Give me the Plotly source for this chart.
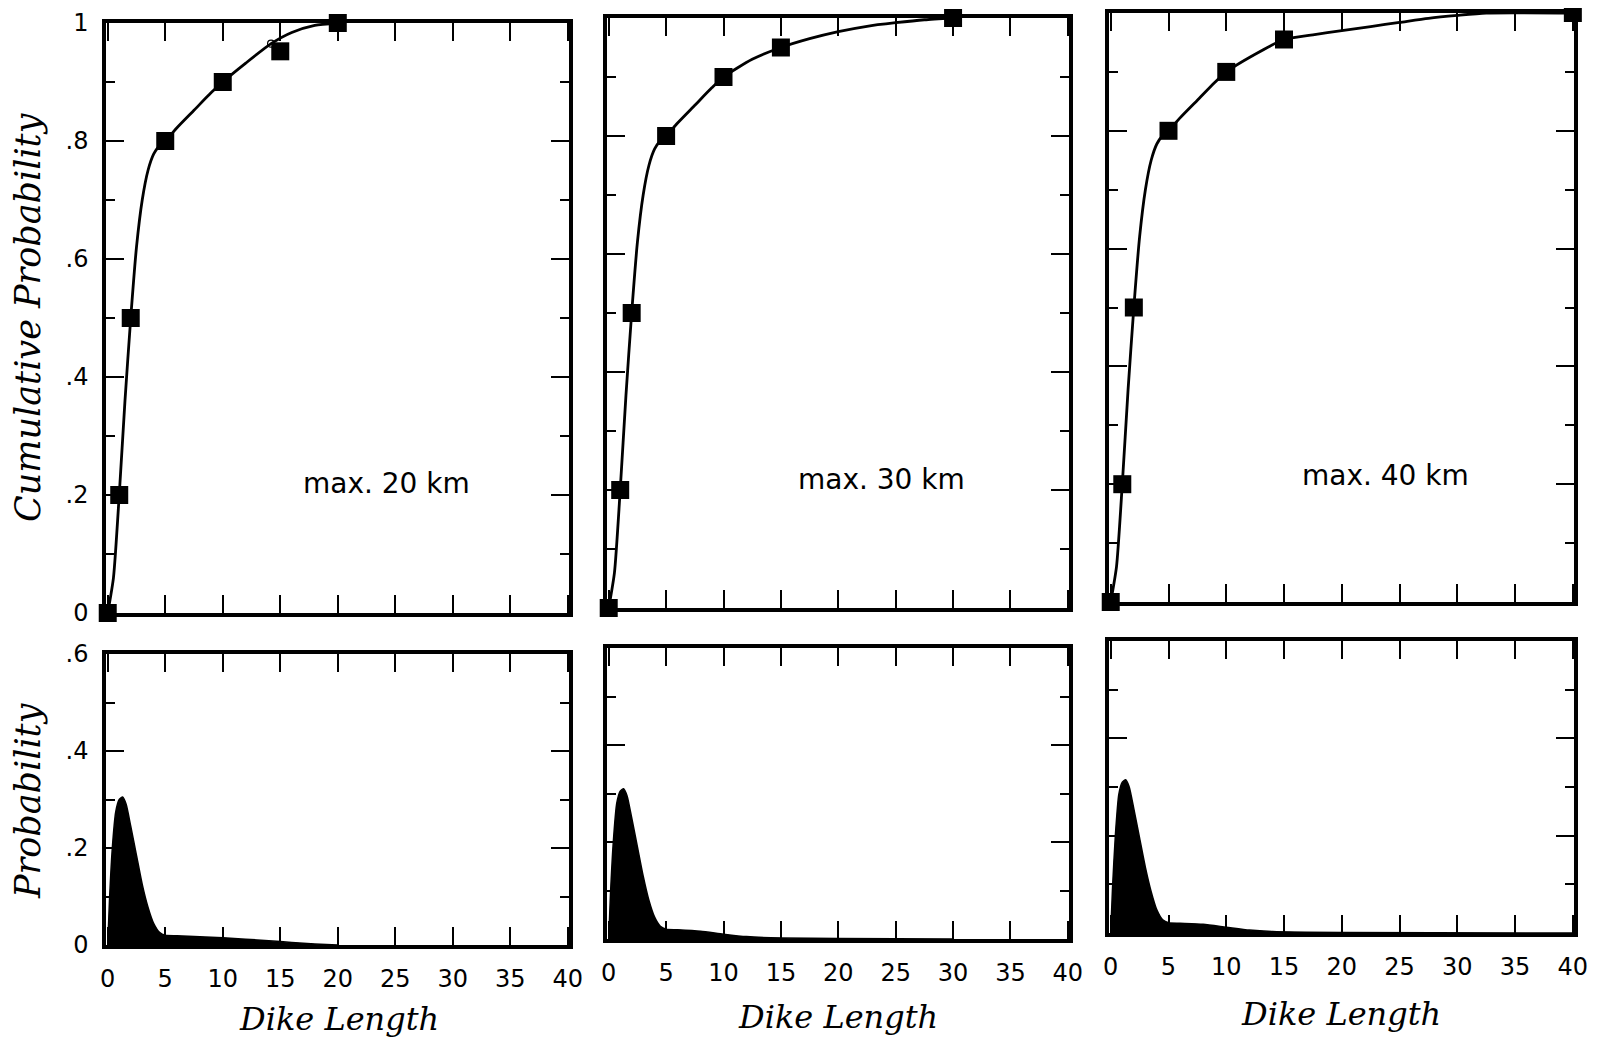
import plotly.graph_objects as go

# ---------------- data ----------------
max_labels = ["max. 20 km", "max. 30 km", "max. 40 km"]

# cumulative probability: square markers
mk_x1 = [0, 1, 2, 5, 10, 15, 20]
mk_y1 = [0, 0.2, 0.5, 0.8, 0.9, 0.952, 1.0]
mk_x2 = [0, 1, 2, 5, 10, 15, 30]
mk_y2 = [0, 0.2, 0.5, 0.8, 0.9, 0.95, 1.0]
mk_x3 = [0, 1, 2, 5, 10, 15, 40]
mk_y3 = [0, 0.2, 0.5, 0.8, 0.9, 0.955, 1.0]

# small open circle on the first curve
oc_x = [14.2]
oc_y = [0.965]

# cumulative probability: smooth curves
cv_x1 = [0, 0.5, 1, 1.5, 2, 2.5, 3, 3.5, 4, 4.5, 5, 6, 7.5, 9, 10, 12, 14.2, 16, 18, 20]
cv_y1 = [0, 0.06, 0.2, 0.36, 0.5, 0.62, 0.7, 0.75, 0.778, 0.792, 0.8, 0.822, 0.852, 0.882, 0.9, 0.932, 0.965, 0.984, 0.996, 1.0]
cv_x2 = [0, 0.5, 1, 1.5, 2, 2.5, 3, 3.5, 4, 4.5, 5, 6, 7.5, 9, 10, 12.5, 15, 17.5, 20, 22.5, 25, 27.5, 30]
cv_y2 = [0, 0.06, 0.2, 0.36, 0.5, 0.62, 0.7, 0.75, 0.778, 0.792, 0.8, 0.822, 0.852, 0.882, 0.9, 0.93, 0.95, 0.965, 0.977, 0.986, 0.992, 0.997, 1.0]
cv_x3 = [0, 0.5, 1, 1.5, 2, 2.5, 3, 3.5, 4, 4.5, 5, 6, 7.5, 9, 10, 12.5, 15, 17.5, 20, 22.5, 25, 27.5, 30, 32.5, 40]
cv_y3 = [0, 0.06, 0.2, 0.36, 0.5, 0.62, 0.7, 0.75, 0.778, 0.792, 0.8, 0.822, 0.852, 0.882, 0.9, 0.93, 0.955, 0.963, 0.97, 0.977, 0.984, 0.991, 0.996, 1.0, 1.0]

# probability density (filled)
pd_x1 = [0, 0.15, 0.4, 0.7, 1.0, 1.3, 1.6, 2.0, 2.5, 3.0, 3.5, 4.0, 4.5, 5.0, 6, 8, 10, 12, 14, 16, 18, 20]
pd_y1 = [0, 0.09, 0.2, 0.275, 0.3, 0.305, 0.29, 0.245, 0.185, 0.125, 0.078, 0.044, 0.026, 0.02, 0.019, 0.017, 0.015, 0.012, 0.009, 0.005, 0.002, 0.0]
pd_x2 = [0, 0.15, 0.4, 0.7, 1.0, 1.3, 1.6, 2.0, 2.5, 3.0, 3.5, 4.0, 4.5, 5.0, 6, 8, 10, 12, 15, 20, 30]
pd_y2 = [0, 0.09, 0.2, 0.28, 0.305, 0.31, 0.295, 0.25, 0.19, 0.13, 0.08, 0.045, 0.026, 0.02, 0.019, 0.016, 0.01, 0.005, 0.002, 0.001, 0.0]
pd_x3 = [0, 0.15, 0.4, 0.7, 1.0, 1.3, 1.6, 2.0, 2.5, 3.0, 3.5, 4.0, 4.5, 5.0, 6, 8, 10, 12, 14, 20, 40]
pd_y3 = [0, 0.09, 0.2, 0.285, 0.31, 0.315, 0.3, 0.255, 0.195, 0.135, 0.085, 0.047, 0.027, 0.021, 0.02, 0.018, 0.012, 0.006, 0.003, 0.001, 0.0]

x_ticks = [0, 5, 10, 15, 20, 25, 30, 35, 40]
x_ticktext = ["0", "5", "10", "15", "20", "25", "30", "35", "40"]
cum_ticks = [0, 0.2, 0.4, 0.6, 0.8, 1.0]
cum_ticktext = ["0", ".2", ".4", ".6", ".8", "1"]
cum_minor = [0.1, 0.3, 0.5, 0.7, 0.9]
prob_ticks = [0, 0.2, 0.4, 0.6]
prob_ticktext = ["0", ".2", ".4", ".6"]
prob_minor = [0.1, 0.3, 0.5]

markers = [(mk_x1, mk_y1), (mk_x2, mk_y2), (mk_x3, mk_y3)]
curves = [(cv_x1, cv_y1), (cv_x2, cv_y2), (cv_x3, cv_y3)]
dens = [(pd_x1, pd_y1), (pd_x2, pd_y2), (pd_x3, pd_y3)]

# ---------------- layout geometry (page pixels) ----------------
OFF = 8  # default body margin of the html page
W, H = 1602 - 2 * OFF, 1050 - 2 * OFF
col_px = [(106, 569), (607, 1069), (1109, 1574)]
top_px = [(23, 613), (18, 608), (13, 602)]
bot_px = [(654, 945), (648, 939), (641, 933)]


def xd(a, b):
    return [(a - OFF) / W, (b - OFF) / W]


def yd(t, b):
    return [1 - (b - OFF) / H, 1 - (t - OFF) / H]


def px(x):
    return (x - OFF) / W


def py(y):
    return 1 - (y - OFF) / H


TICKFONT = dict(family="DejaVu Sans", size=24, color="black")
XTITLE = dict(family="DejaVu Serif", size=32, color="black")
YTITLE = dict(family="DejaVu Serif", size=35, color="black")

fig = go.Figure()
layout = {}

for i in range(3):
    kt = 2 * i + 1
    kb = 2 * i + 2
    xa_t, ya_t = f"x{kt}", f"y{kt}"
    xa_b, ya_b = f"x{kb}", f"y{kb}"

    cx, cy = curves[i]
    fig.add_trace(go.Scatter(x=cx, y=cy, mode="lines",
                             line=dict(color="black", width=2.8, shape="spline", smoothing=0.6),
                             xaxis=xa_t, yaxis=ya_t, showlegend=False, cliponaxis=False))
    mx, my = markers[i]
    fig.add_trace(go.Scatter(x=mx, y=my, mode="markers", marker=dict(symbol="square", size=18, color="black"),
                             xaxis=xa_t, yaxis=ya_t, showlegend=False, cliponaxis=False))
    if i == 0:
        fig.add_trace(go.Scatter(x=oc_x, y=oc_y, mode="markers",
                                 marker=dict(symbol="circle-open", size=7, color="black", line=dict(width=1.2)),
                                 xaxis=xa_t, yaxis=ya_t, showlegend=False, cliponaxis=False))
    dx, dy = dens[i]
    fig.add_trace(go.Scatter(x=dx, y=dy, mode="lines", fill="tozeroy", fillcolor="black",
                             line=dict(color="black", width=1.5, shape="spline", smoothing=0.6),
                             xaxis=xa_b, yaxis=ya_b, showlegend=False))

    common_x = dict(range=[-0.15, 40.1], tickvals=x_ticks, ticks="inside", ticklen=18, tickwidth=2.4,
                    tickcolor="black", showline=True, linewidth=3.5, linecolor="black", mirror="allticks",
                    showgrid=False, zeroline=False, tickfont=TICKFONT, automargin=False)
    common_y = dict(ticks="inside", ticklen=18, tickwidth=2.4, tickcolor="black", showline=True, linewidth=3.5,
                    linecolor="black", mirror="allticks", showgrid=False, zeroline=False, tickfont=TICKFONT,
                    ticklabelstandoff=9, automargin=False)

    layout[f"xaxis{kt}"] = dict(common_x, domain=xd(*col_px[i]), anchor=ya_t, showticklabels=False)
    layout[f"yaxis{kt}"] = dict(common_y, domain=yd(*top_px[i]), anchor=xa_t, range=[0, 1.0],
                                tickvals=cum_ticks, ticktext=cum_ticktext, showticklabels=(i == 0),
                                minor=dict(tickvals=cum_minor, ticks="inside", ticklen=9,
                                           tickwidth=2, tickcolor="black", showgrid=False))
    layout[f"xaxis{kb}"] = dict(common_x, domain=xd(*col_px[i]), anchor=ya_b,
                                ticktext=x_ticktext, showticklabels=True, ticklabelstandoff=9)
    layout[f"yaxis{kb}"] = dict(common_y, domain=yd(*bot_px[i]), anchor=xa_b, range=[0, 0.6],
                                tickvals=prob_ticks, ticktext=prob_ticktext, showticklabels=(i == 0),
                                minor=dict(tickvals=prob_minor, ticks="inside", ticklen=9,
                                           tickwidth=2, tickcolor="black", showgrid=False))

annotations = []
label_pos = [(24.2, 0.22), (23.8, 0.217), (23.8, 0.214)]
title_centers = [(339, 1019), (838, 1017), (1341, 1014)]
for i in range(3):
    kt = 2 * i + 1
    annotations.append(dict(x=label_pos[i][0], y=label_pos[i][1], xref=f"x{kt}", yref=f"y{kt}",
                            text=max_labels[i], showarrow=False, xanchor="center", yanchor="middle",
                            font=dict(family="DejaVu Sans", size=28, color="black")))
    tx, ty = title_centers[i]
    annotations.append(dict(x=px(tx), y=py(ty), xref="paper", yref="paper", xanchor="center", yanchor="middle",
                            text="<i>Dike Length</i>", showarrow=False, font=XTITLE))
annotations.append(dict(x=px(28), y=py(317), xref="paper", yref="paper", xanchor="center", yanchor="middle",
                        text="<i>Cumulative Probability</i>", textangle=-90, showarrow=False, font=YTITLE))
annotations.append(dict(x=px(28), y=py(801), xref="paper", yref="paper", xanchor="center", yanchor="middle",
                        text="<i>Probability</i>", textangle=-90, showarrow=False, font=YTITLE))

fig.update_layout(width=W, height=H, margin=dict(l=0, r=0, t=0, b=0, autoexpand=False), plot_bgcolor="white",
                  paper_bgcolor="white", annotations=annotations, **layout)

fig.write_html("out.html")
